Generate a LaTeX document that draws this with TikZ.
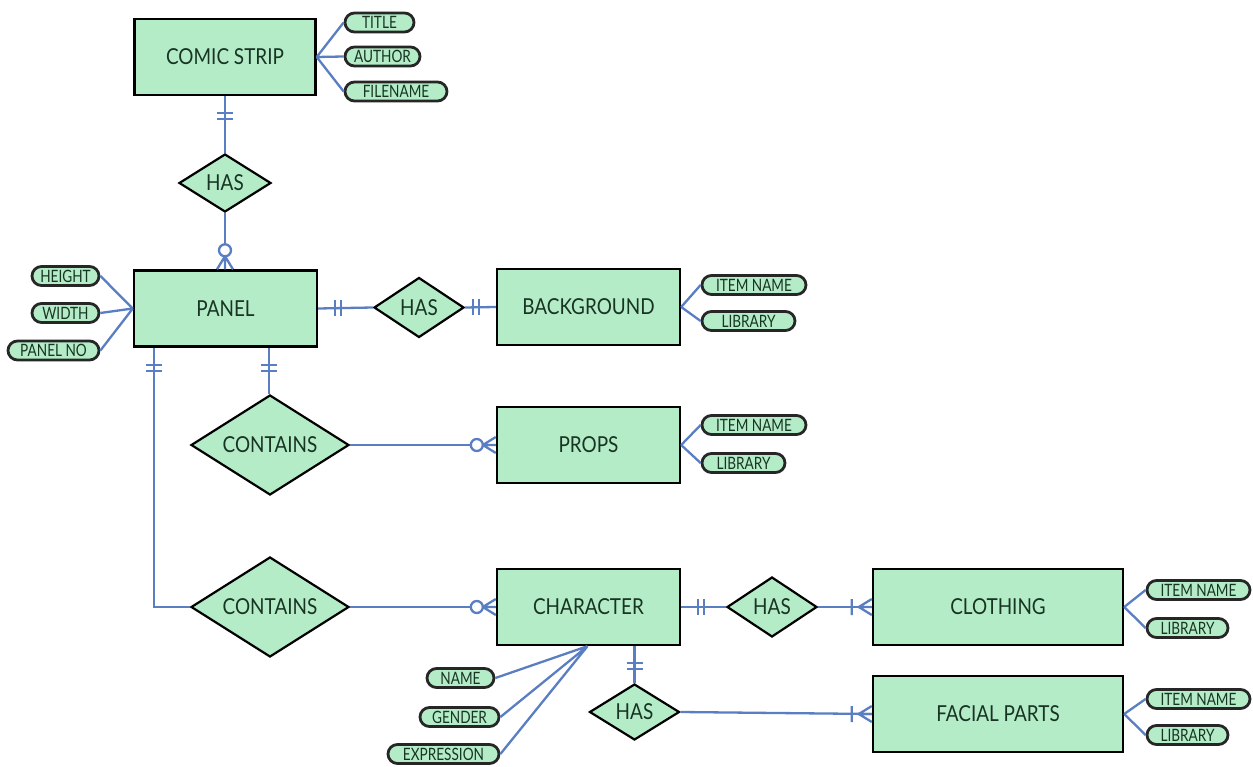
\documentclass[tikz,border=0pt]{standalone}
\usepackage{graphicx}
\usepackage{fontspec}
\setmainfont{Lato}
\usetikzlibrary{shapes.geometric,shapes.misc,calc}
\definecolor{erfill}{RGB}{180,236,200}
\definecolor{erline}{RGB}{90,126,194}
\definecolor{ertext}{RGB}{24,52,34}
\newcommand{\entt}[1]{\scalebox{0.86}[1]{#1}}
\newcommand{\attt}[1]{\scalebox{0.8}[1]{#1}}
\tikzset{
  entity/.style={draw=black, line width=2.4pt, fill=erfill, minimum height=76pt, inner sep=0pt, text=ertext, font=\fontsize{22}{22}\selectfont},
  rel/.style={diamond, draw=black, line width=2.2pt, fill=erfill, inner sep=0pt, aspect=1.5, text=ertext, font=\fontsize{22}{22}\selectfont},
  attr/.style={rounded rectangle, draw=black!85, line width=2.8pt, fill=erfill, inner sep=0pt, minimum height=19pt, text=ertext, font=\fontsize{17}{17}\selectfont},
  conn/.style={draw=erline, line width=2.3pt},
  mandone/.pic={\draw[conn] (17,-8)--(17,8) (23,-8)--(23,8);},
  zeromany/.pic={\draw[conn] (0,-8)--(13,0)--(0,8) (0,0)--(13,0); \draw[conn,fill=white] (19,0) circle[radius=6];},
  onemany/.pic={\draw[conn] (0,-8)--(13,0)--(0,8) (0,0)--(13,0) (20,-8)--(20,8);}
}
\begin{document}
\begin{tikzpicture}[x=1pt,y=-1pt]
\useasboundingbox[fill=white] (0,0) rectangle (1253,767);

% entities
\node[entity, minimum width=181pt] (cs) at (225,57) {\entt{COMIC STRIP}};
\node[entity, minimum width=183pt] (panel) at (225.5,308.5) {\entt{PANEL}};
\node[entity, minimum width=183pt] (bg) at (588.5,307) {\entt{BACKGROUND}};
\node[entity, minimum width=183pt] (props) at (588.5,445) {\entt{PROPS}};
\node[entity, minimum width=183pt] (char) at (588.5,607) {\entt{CHARACTER}};
\node[entity, minimum width=250pt] (cloth) at (998,607) {\entt{CLOTHING}};
\node[entity, minimum width=250pt] (face) at (998,714) {\entt{FACIAL PARTS}};

% relationships
\node[rel, minimum width=92pt, minimum height=58pt] (h1) at (225,183) {\entt{HAS}};
\node[rel, minimum width=90pt, minimum height=60pt] (h2) at (419,307.5) {\entt{HAS}};
\node[rel, minimum width=158pt, minimum height=100pt] (c1) at (270,445) {\entt{CONTAINS}};
\node[rel, minimum width=158pt, minimum height=100pt] (c2) at (270,607) {\entt{CONTAINS}};
\node[rel, minimum width=90pt, minimum height=60pt] (h3) at (772,607) {\entt{HAS}};
\node[rel, minimum width=90pt, minimum height=56pt] (h4) at (634.5,712) {\entt{HAS}};

% attributes
\node[attr, minimum width=69pt] (title) at (379.5,22.5) {\attt{TITLE}};
\node[attr, minimum width=75pt] (author) at (382.5,56.5) {\attt{AUTHOR}};
\node[attr, minimum width=102pt] (filename) at (396,91.5) {\attt{FILENAME}};
\node[attr, minimum width=67pt] (height) at (65.5,276) {\attt{HEIGHT}};
\node[attr, minimum width=67pt] (width) at (65.5,313) {\attt{WIDTH}};
\node[attr, minimum width=91pt] (panelno) at (53.5,350.5) {\attt{PANEL NO}};
\node[attr, minimum width=104pt] (bgitem) at (754,285) {\attt{ITEM NAME}};
\node[attr, minimum width=93pt] (bglib) at (748.5,321) {\attt{LIBRARY}};
\node[attr, minimum width=104pt] (pritem) at (754,425) {\attt{ITEM NAME}};
\node[attr, minimum width=83pt] (prlib) at (743.5,463) {\attt{LIBRARY}};
\node[attr, minimum width=103pt] (clitem) at (1198.5,590) {\attt{ITEM NAME}};
\node[attr, minimum width=81pt] (cllib) at (1187.5,628) {\attt{LIBRARY}};
\node[attr, minimum width=103pt] (faitem) at (1198.5,699) {\attt{ITEM NAME}};
\node[attr, minimum width=81pt] (falib) at (1187.5,735) {\attt{LIBRARY}};
\node[attr, minimum width=67pt] (name) at (460.5,678) {\attt{NAME}};
\node[attr, minimum width=79pt] (gender) at (459.5,717) {\attt{GENDER}};
\node[attr, minimum width=111pt] (expr) at (443.5,754) {\attt{EXPRESSION}};

% attribute links
\draw[conn] (cs.east) -- (title.west) (cs.east) -- (author.west) (cs.east) -- (filename.west);
\draw[conn] (panel.west) -- (height.east) (panel.west) -- (width.east) (panel.west) -- (panelno.east);
\draw[conn] (bg.east) -- (bgitem.west) (bg.east) -- (bglib.west);
\draw[conn] (props.east) -- (pritem.west) (props.east) -- (prlib.west);
\draw[conn] (cloth.east) -- (clitem.west) (cloth.east) -- (cllib.west);
\draw[conn] (face.east) -- (faitem.west) (face.east) -- (falib.west);
\coordinate (ca) at ($(char.south)+(-1,0)$);
\draw[conn] (ca) -- (name.east) (ca) -- (gender.east) (ca) -- (expr.east);

% relationship links
\coordinate (pb1) at ($(panel.south west)+(21,0)$);
\coordinate (pb2) at ($(panel.south west)+(136,0)$);
\coordinate (cb) at ($(char.south)+(46,0)$);
\draw[conn] (cs.south) -- (h1.north);
\draw[conn] (h1.south) -- (h1.south |- panel.north);
\draw[conn] (panel.east) -- (h2.west);
\draw[conn] (h2.east) -- (bg.west);
\draw[conn] (pb1) |- (c2.west);
\draw[conn] (pb2) -- (pb2 |- c1.north);
\draw[conn] (c1.east) -- (props.west);
\draw[conn] (c2.east) -- (char.west);
\draw[conn] (char.east) -- (h3.west);
\draw[conn] (h3.east) -- (cloth.west);
\draw[conn] (cb) -- (h4.north);
\draw[conn] (h4.east) -- (face.west);

% cardinality marks
\pic[rotate=-90] at (cs.south) {mandone};
\pic[rotate=90] at (h1.south |- panel.north) {zeromany};
\pic at (panel.east) {mandone};
\pic[rotate=180] at (bg.west) {mandone};
\pic[rotate=-90] at (pb1) {mandone};
\pic[rotate=-90] at (pb2) {mandone};
\pic[rotate=180] at (props.west) {zeromany};
\pic[rotate=180] at (char.west) {zeromany};
\pic at (char.east) {mandone};
\pic[rotate=180] at (cloth.west) {onemany};
\pic[rotate=-90] at (cb) {mandone};
\pic[rotate=180] at (face.west) {onemany};
\end{tikzpicture}
\end{document}
